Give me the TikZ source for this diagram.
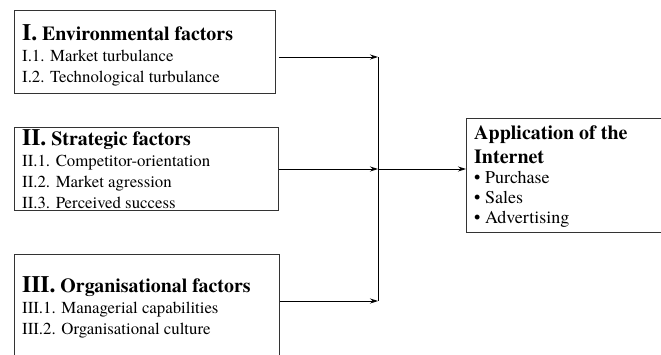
\documentclass[tikz,border=0pt]{standalone}
\usepackage{fontspec}
\setmainfont{texgyretermes}[Extension=.otf,UprightFont=*-regular,BoldFont=*-bold,ItalicFont=*-italic,BoldItalicFont=*-bolditalic]
\usetikzlibrary{positioning,arrows.meta}

\newcommand{\bignum}[1]{{\fontsize{23.5}{21}\selectfont #1}}
\newcommand{\facthead}[1]{\textbf{\fontsize{19.9}{21}\selectfont #1}}

\begin{document}
\begin{tikzpicture}[
    x=1pt,y=-1pt,
    factor/.style={rectangle,draw=black!80,line width=0.8pt,anchor=north west,inner sep=0pt},
    listing/.style={anchor=base west,align=left,inner sep=0pt,font=\fontsize{16.8}{21}\selectfont},
    arrow/.style={line width=0.8pt,->,>={Stealth[length=8pt,width=5pt]}}
]
    \useasboundingbox (0,0) rectangle (661,354);
    \clip (0,0) rectangle (661,354);

    % Factor boxes (left)
    \node[factor,minimum width=261pt,minimum height=83pt] (env) at (14,10) {};
    \node[factor,minimum width=264pt,minimum height=83pt] (strat) at (14,127) {};
    \node[factor,minimum width=265pt,minimum height=140pt] (org) at (14,254) {};
    % text nodes sit on the baseline of their last line
    \node[listing] (envtxt) at (22,82) {\facthead{\bignum{I.} Environmental factors}\\I.1. Market turbulance\\I.2. Technological turbulance};
    \node[listing] (strattxt) at (22,208) {\facthead{\bignum{II.} Strategic factors}\\II.1. Competitor-orientation\\II.2. Market agression\\II.3. Perceived success};
    \node[listing] (orgtxt) at (22,334) {\facthead{\bignum{III.} Organisational factors}\\III.1. Managerial capabilities\\III.2. Organisational culture};

    % Outcome box (right)
    \node[factor,minimum width=220pt,minimum height=114pt] (inet) at (466,118) {};
    \node[listing,font=\fontsize{18}{20}\selectfont] (inettxt) at (474,223) {\textbf{\fontsize{20}{20}\selectfont Application of the}\\[4pt]\textbf{\fontsize{20}{20}\selectfont Internet}\\\textbullet{} Purchase\\\textbullet{} Sales\\\textbullet{} Advertising};

    % Junction line
    \coordinate (j1) at (378,57);
    \coordinate (j2) at (378,169);
    \coordinate (j3) at (378,301);
    \draw[line width=0.8pt] (j1) -- (j3);

    % Arrows
    \draw[arrow,shorten <=3pt] (env.east |- j1) -- (j1);
    \foreach \b/\j in {strat/j2,org/j3} {
        \draw[arrow] (\b.east |- \j) -- (\j);
    }
    \draw[arrow] (j2) -- (inet.west |- j2);
\end{tikzpicture}
\end{document}
